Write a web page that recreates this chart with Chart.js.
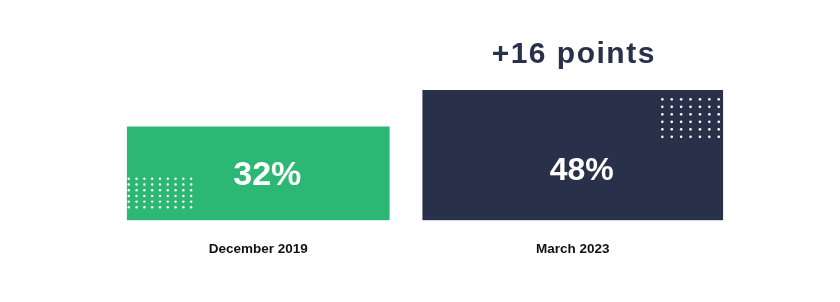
<!DOCTYPE html>
<html>
<head>
<meta charset="utf-8">
<script src="https://cdn.jsdelivr.net/npm/chart.js@4/dist/chart.umd.min.js"></script>
<style>
  html, body { margin: 0; padding: 0; background: #fff; }
  #wrap { width: 840px; height: 302px; }
</style>
</head>
<body>
<div id="wrap"><canvas id="grafica"></canvas></div>
<script>
const categorias = ['December 2019', 'March 2023'];
const valores = [32, 48];
const colores = ['#2cb874', '#29304a'];
const anchos = [262, 300];
const escalaMin = -9;
const escalaMax = 60;

// pequeña rejilla de puntos decorativa dentro de cada barra
const puntos = {
    id: 'puntos',
    afterDatasetsDraw(chart) {
        const ctx = chart.ctx;
        const verde = chart.getDatasetMeta(0).data[0];
        const azul = chart.getDatasetMeta(1).data[1];
        const base = chart.scales.y.getPixelForValue(escalaMin);
        ctx.save();
        ctx.fillStyle = '#ffffff';
        // barra verde: abajo a la izquierda
        let left = verde.x - verde.width / 2;
        for (let r = 0; r < 6; r++) {
            for (let c = 0; c < 9; c++) {
                ctx.beginPath();
                ctx.arc(left + 1.5 + c * 7.8, base - 41.5 + r * 5.7, 1.2, 0, Math.PI * 2);
                ctx.fill();
            }
        }
        // barra azul: arriba a la derecha
        let right = azul.x + azul.width / 2;
        for (let r = 0; r < 6; r++) {
            for (let c = 0; c < 7; c++) {
                ctx.beginPath();
                ctx.arc(right - 4 - (6 - c) * 9.4, azul.y + 9 + r * 7.5, 1.3, 0, Math.PI * 2);
                ctx.fill();
            }
        }
        ctx.restore();
    }
};

const etiquetas = {
    id: 'etiquetas',
    afterDatasetsDraw(chart) {
        const ctx = chart.ctx;
        const bars = [chart.getDatasetMeta(0).data[0], chart.getDatasetMeta(1).data[1]];
        const base = chart.scales.y.getPixelForValue(escalaMin);
        ctx.save();
        ctx.textAlign = 'center';
        ctx.textBaseline = 'middle';
        ctx.fillStyle = '#ffffff';
        bars.forEach((b, i) => {
            ctx.font = 'bold ' + (i === 0 ? 34 : 32) + 'px "Liberation Sans", Arial, sans-serif';
            ctx.fillText(valores[i] + '%', b.x + 9, (b.y + base) / 2 + (i === 0 ? 2 : 16));
        });
        // diferencia sobre la segunda barra
        const b = bars[1];
        ctx.fillStyle = '#29304a';
        ctx.font = 'bold 30px "Liberation Sans", Arial, sans-serif';
        ctx.letterSpacing = '1.5px';
        ctx.textBaseline = 'alphabetic';
        ctx.fillText('+' + (valores[1] - valores[0]) + ' points', b.x + 1, 63);
        ctx.restore();
    }
};

const init = () => {
    let chartCanva = document.getElementById('grafica').getContext('2d');
    let chart = new Chart(chartCanva, {
        type: 'bar',
        data: {
            labels: categorias,
            datasets: [
                {
                    data: [valores[0], null],
                    base: escalaMin,
                    backgroundColor: colores[0],
                    barThickness: anchos[0],
                    borderWidth: 0,
                },
                {
                    data: [null, valores[1]],
                    base: escalaMin,
                    backgroundColor: colores[1],
                    barThickness: anchos[1],
                    borderWidth: 0,
                }
            ]
        },
        options: {
            responsive: true,
            maintainAspectRatio: false,
            animation: false,
            datasets: { bar: { grouped: false } },
            layout: { padding: { left: 101, right: 110, top: 63, bottom: 23.5 } },
            plugins: { legend: { display: false }, tooltip: { enabled: false } },
            scales: {
                x: {
                    grid: { display: false, drawTicks: false },
                    border: { display: false },
                    ticks: {
                        color: '#111111',
                        padding: 21,
                        font: { family: '"Liberation Sans", Arial, sans-serif', size: 13.5, weight: 'bold' }
                    }
                },
                y: {
                    display: false,
                    min: escalaMin,
                    max: escalaMax
                }
            }
        },
        plugins: [puntos, etiquetas]
    });
}

document.addEventListener('DOMContentLoaded', () => {
    init()
})
</script>
</body>
</html>
